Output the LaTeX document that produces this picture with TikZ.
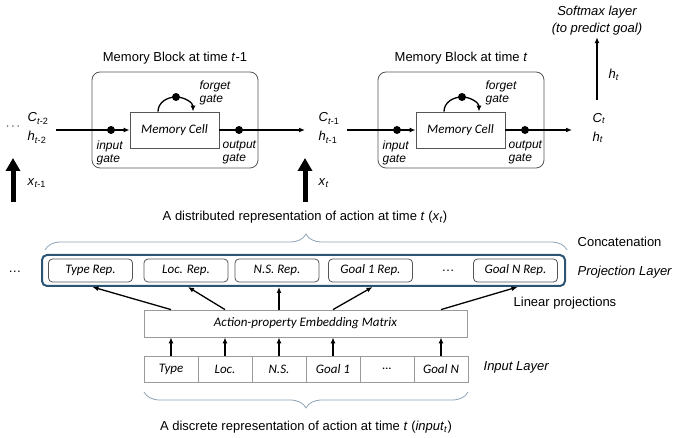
\documentclass[tikz,border=0pt]{standalone}
\usepackage{fontspec}
\setmainfont{Liberation Sans}
\newfontfamily\cali{Carlito}
\usetikzlibrary{arrows.meta,positioning,decorations.pathreplacing}

\definecolor{framebl}{HTML}{2E5473}
\definecolor{bracebl}{HTML}{8FA3B8}
\definecolor{boxgray}{HTML}{555555}
\definecolor{litegray}{HTML}{9A9A9A}

\tikzset{
  lab/.style={font=\fontsize{13}{15}\selectfont,inner sep=1pt},
  gatelab/.style={font=\fontsize{12}{13}\selectfont\itshape,align=left,inner sep=0pt,anchor=west},
  memblock/.style={draw=boxgray,line width=.8pt,rounded corners=8pt,minimum width=166pt,minimum height=96pt},
  cellbox/.style={draw=boxgray,line width=.8pt,fill=white,minimum width=89pt,minimum height=36pt,font=\fontsize{13}{15}\selectfont\cali\itshape},
  gatedot/.style={circle,fill=black,inner sep=0pt,minimum size=8pt},
  bigarrow/.style={line width=5pt,-{Triangle[width=14pt,length=13pt]}},
  repbox/.style={draw=boxgray,line width=.8pt,rounded corners=4pt,minimum width=84pt,minimum height=23pt,font=\fontsize{13}{15}\selectfont\cali\itshape},
  incell/.style={draw=litegray,line width=.8pt,minimum width=54pt,minimum height=26pt,font=\fontsize{13}{15}\selectfont\cali\itshape},
  mybrace/.style={draw=bracebl,line width=.8pt,decorate,decoration={brace,amplitude=16pt}}
}

\begin{document}
\begin{tikzpicture}[x=1pt,y=-1pt,line width=1.3pt,>={Latex[length=6pt,width=5pt]}]
\useasboundingbox (0,0) rectangle (673,438);

% two memory blocks, the second shifted right
\foreach \n/\dx/\tm in {a/0/{\textit{t}-1},b/286/{\textit{t}}} {
  \node[memblock] (blk\n) at (175+\dx,120) {};
  \node[lab] (ttl\n) at (175+\dx,58) {Memory Block at time \tm};
  \node[cellbox] (cell\n) at (174.5+\dx,130) {Memory Cell};
  \node[gatedot] (ig\n) at (111+\dx,130) {};
  \node[gatedot] (og\n) at (239+\dx,130) {};
  \node[gatedot] (fg\n) at (176+\dx,97) {};
  \node[gatelab] at (96+\dx,152.5) {input\\gate};
  \node[gatelab] at (222+\dx,152.5) {output\\gate};
  \node[gatelab] at (199+\dx,92.5) {forget\\gate};
  \draw[->] ([xshift=-16.5pt]cell\n.north) to[out=90,in=180] (fg\n.center)
    to[out=0,in=90] ([xshift=18.5pt]cell\n.north);
  \draw[->] (ig\n.center) -- (cell\n.west);
  \draw (cell\n.east) -- (og\n.center);
}

% states between the blocks
\node[lab] (dotsl) at (13,127) {$\cdots$};
\node[lab,align=left,anchor=west,font=\fontsize{13}{19}\selectfont] (cm2) at (26,128)
  {\textit{C}\textsubscript{\textit{t}-2}\\\textit{h}\textsubscript{\textit{t}-2}};
\node[lab,align=left,anchor=west,font=\fontsize{13}{19}\selectfont] (cm1) at (317,128)
  {\textit{C}\textsubscript{\textit{t}-1}\\\textit{h}\textsubscript{\textit{t}-1}};
\node[lab,align=left,anchor=west,font=\fontsize{13}{19}\selectfont] (ct) at (591,128)
  {\textit{C}\textsubscript{\textit{t}}\\\textit{h}\textsubscript{\textit{t}}};
\coordinate (ea) at (305,130);
\coordinate (eb) at (572,130);
\draw (cm2.east |- iga) ++(6,0) coordinate (sa);
\draw (sa) -- (iga.center);
\draw[->] (oga.center) -- (ea);
\draw (cm1.east |- igb) ++(6,0) coordinate (sb);
\draw (sb) -- (igb.center);
\draw[->] (ogb.center) -- (eb);

% softmax output
\node[lab,align=center,font=\fontsize{13}{17}\selectfont\itshape] (soft) at (597,21) {Softmax layer\\(to predict goal)};
\coordinate (hb) at (597,100);
\draw[->] (hb) -- (soft.south);
\node[lab,anchor=west] (hlab) at (607,75) {\textit{h}\textsubscript{\textit{t}}};

% inputs at each time step
\coordinate (xa0) at (13,202);
\coordinate (xb0) at (305,202);
\node[lab,anchor=west] (xa) at (26,183) {\textit{x}\textsubscript{\textit{t}-1}};
\node[lab,anchor=west] (xb) at (317,183) {\textit{x}\textsubscript{\textit{t}}};
\draw[bigarrow] (xa0) -- (13,158);
\draw[bigarrow] (xb0) -- (305,158);

% projection layer
\node[lab] (distr) at (305,217) {A distributed representation of action at time \textit{t} (\textit{x}\textsubscript{\textit{t}})};
\draw[mybrace] (45,250) -- (567,250);
\node[draw=framebl,line width=2pt,rounded corners=5pt,minimum width=523pt,minimum height=31pt] (proj) at (303.5,270.5) {};
\foreach \n/\x/\t in {type/90.5/Type Rep.,loc/186/Loc. Rep.,ns/277/N.S. Rep.,g1/370.5/Goal 1 Rep.,gn/515.5/Goal N Rep.}
  \node[repbox] (rep-\n) at (\x,270.5) {\t};
\node[lab] (rdots) at (448,271) {\dots};
\node[lab] (pdots) at (15,272) {\dots};
\node[lab,anchor=west] (concat) at (576,242) {Concatenation};
\node[lab,anchor=west,font=\fontsize{13}{15}\selectfont\itshape] (projlab) at (576,272) {Projection Layer};

% embedding matrix and input layer
\node[draw=litegray,line width=.8pt,minimum width=323pt,minimum height=27pt,font=\fontsize{13}{15}\selectfont\cali\itshape] (mat) at (305.5,323.5) {Action-property Embedding Matrix};
\node[lab,anchor=west] (linproj) at (512,303) {Linear projections};
\foreach \k/\t in {1/Type,2/Loc.,3/N.S.,4/Goal 1,5/\dots,6/Goal N}
  \node[incell] (in-\k) at (117+54*\k,369) {\t};
\node[lab,anchor=west,font=\fontsize{13}{15}\selectfont\itshape] (inlab) at (482,367) {Input Layer};
\foreach \k in {1,2,3,4,6}
  \draw[->] (in-\k.north) -- (in-\k.north |- mat.south);
\foreach \k/\n in {1/type,2/loc,3/ns,4/g1,6/gn}
  \draw[->] (mat.north -| in-\k) -- ([xshift=2pt]rep-\n.south |- proj.south);
\draw[mybrace] (468,392) -- (144,392);
\node[lab] (discr) at (306,427) {A discrete representation of action at time \textit{t} (\textit{input}\textsubscript{\textit{t}})};
\end{tikzpicture}
\end{document}
